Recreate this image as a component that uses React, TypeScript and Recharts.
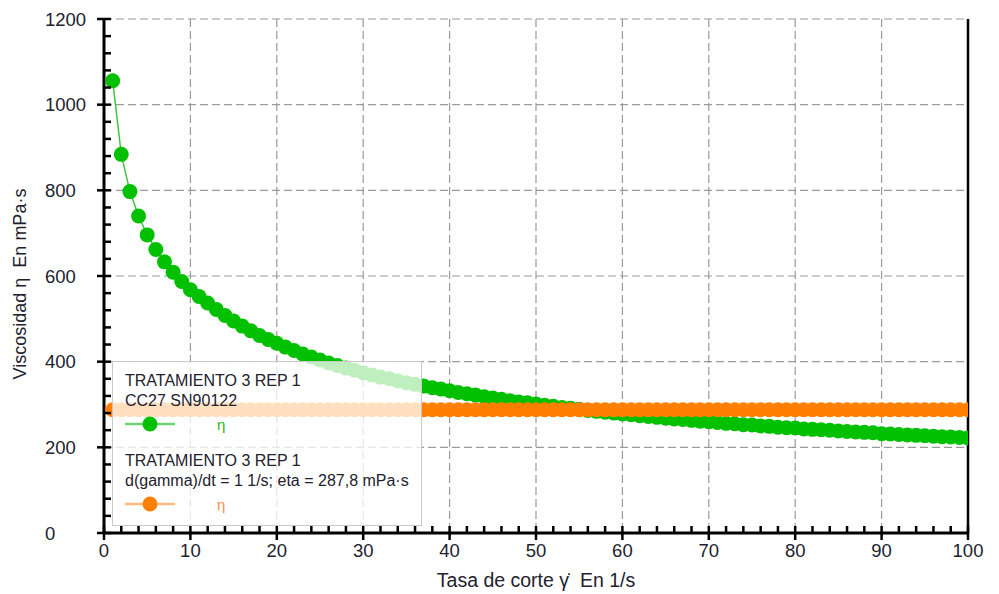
import React from 'react';
import { LineChart, Line, XAxis, YAxis, CartesianGrid, ReferenceLine } from 'recharts';

// shear rate (1/s)
const shearRate = [
  1, 2, 3, 4, 5, 6, 7, 8, 9, 10,
  11, 12, 13, 14, 15, 16, 17, 18, 19, 20,
  21, 22, 23, 24, 25, 26, 27, 28, 29, 30,
  31, 32, 33, 34, 35, 36, 37, 38, 39, 40,
  41, 42, 43, 44, 45, 46, 47, 48, 49, 50,
  51, 52, 53, 54, 55, 56, 57, 58, 59, 60,
  61, 62, 63, 64, 65, 66, 67, 68, 69, 70,
  71, 72, 73, 74, 75, 76, 77, 78, 79, 80,
  81, 82, 83, 84, 85, 86, 87, 88, 89, 90,
  91, 92, 93, 94, 95, 96, 97, 98, 99, 100,
];

// viscosity curve, CC27 SN90122 (mPa·s)
const etaCurve = [
  1056, 884, 797, 740, 696, 662, 633, 609, 587, 568,
  552, 537, 522, 508, 495, 483, 472, 461, 452, 443,
  434, 426, 418, 411, 404, 397, 391, 385, 380, 374,
  369, 364, 360, 355, 351, 347, 343, 339, 336, 332,
  328, 325, 322, 318, 315, 312, 309, 306, 304, 301,
  298, 296, 293, 291, 289, 286, 284, 282, 280, 278,
  276, 274, 272, 270, 268, 266, 265, 263, 261, 260,
  258, 256, 255, 253, 252, 250, 249, 247, 246, 245,
  243, 242, 241, 240, 238, 237, 236, 235, 234, 232,
  231, 230, 229, 228, 227, 226, 225, 224, 223, 222,
];

// single point result, d(gamma)/dt = 1 1/s (mPa·s)
const etaPoint = [
  287.8, 287.8, 287.8, 287.8, 287.8, 287.8, 287.8, 287.8, 287.8, 287.8,
  287.8, 287.8, 287.8, 287.8, 287.8, 287.8, 287.8, 287.8, 287.8, 287.8,
  287.8, 287.8, 287.8, 287.8, 287.8, 287.8, 287.8, 287.8, 287.8, 287.8,
  287.8, 287.8, 287.8, 287.8, 287.8, 287.8, 287.8, 287.8, 287.8, 287.8,
  287.8, 287.8, 287.8, 287.8, 287.8, 287.8, 287.8, 287.8, 287.8, 287.8,
  287.8, 287.8, 287.8, 287.8, 287.8, 287.8, 287.8, 287.8, 287.8, 287.8,
  287.8, 287.8, 287.8, 287.8, 287.8, 287.8, 287.8, 287.8, 287.8, 287.8,
  287.8, 287.8, 287.8, 287.8, 287.8, 287.8, 287.8, 287.8, 287.8, 287.8,
  287.8, 287.8, 287.8, 287.8, 287.8, 287.8, 287.8, 287.8, 287.8, 287.8,
  287.8, 287.8, 287.8, 287.8, 287.8, 287.8, 287.8, 287.8, 287.8, 287.8,
];

const xMajor = [0, 10, 20, 30, 40, 50, 60, 70, 80, 90, 100];
const xTicks = [
  0, 2, 4, 6, 8, 10, 12, 14, 16, 18, 20, 22, 24, 26, 28, 30, 32, 34, 36, 38, 40,
  42, 44, 46, 48, 50, 52, 54, 56, 58, 60, 62, 64, 66, 68, 70, 72, 74, 76, 78, 80,
  82, 84, 86, 88, 90, 92, 94, 96, 98, 100,
];
const yMajor = [0, 200, 400, 600, 800, 1000, 1200];
const yTicks = [
  0, 40, 80, 120, 160, 200, 240, 280, 320, 360, 400, 440, 480, 520, 560, 600,
  640, 680, 720, 760, 800, 840, 880, 920, 960, 1000, 1040, 1080, 1120, 1160, 1200,
];

const legendItems = [
  { title: 'TRATAMIENTO 3 REP 1', sub: 'CC27 SN90122', line: '#6fd36f', dot: '#00c000', eta: '#22b822' },
  { title: 'TRATAMIENTO 3 REP 1', sub: 'd(gamma)/dt = 1 1/s; eta = 287,8 mPa·s', line: '#ffbb80', dot: '#ff8000', eta: '#ff8850' },
];

const data = shearRate.map((x, i) => ({ x, curve: etaCurve[i], point: etaPoint[i] }));

const FONT = '"Liberation Sans", Arial, sans-serif';
const TEXT = '#22222e';

function XTick(props: any) {
  const { x, y, payload } = props;
  const major = xMajor.includes(payload.value);
  return (
    <g>
      <line x1={x} x2={x} y1={y - 7} y2={major ? y + 7 : y} stroke="#000" strokeWidth={2.5} />
      {major && (
        <text x={x} y={y + 24} textAnchor="middle" fontSize={18.5} fontFamily={FONT} fill={TEXT}>
          {payload.value}
        </text>
      )}
    </g>
  );
}

function YTick(props: any) {
  const { x, y, payload } = props;
  const major = yMajor.includes(payload.value);
  return (
    <g>
      <line x1={major ? x - 7 : x} x2={x + 7} y1={y} y2={y} stroke="#000" strokeWidth={2.5} />
      {major && (
        <text x={x - 59} y={y + 6.5} textAnchor="start" fontSize={18.5} fontFamily={FONT} fill={TEXT}>
          {payload.value}
        </text>
      )}
    </g>
  );
}

function YTitle(props: any) {
  const vb = props.viewBox || { x: 0, y: 19, height: 514 };
  const cx = vb.x + 20;
  const cy = vb.y + vb.height / 2 + 8;
  return (
    <text x={cx} y={cy} transform={`rotate(-90 ${cx} ${cy})`} textAnchor="middle" dominantBaseline="central"
      fontSize={18} fontFamily={FONT} fill={TEXT}>
      {'Viscosidad η\u00a0\u00a0En mPa·s'}
    </text>
  );
}

function XTitle(props: any) {
  const vb = props.viewBox || { x: 104, y: 533, width: 864 };
  return (
    <text x={vb.x + vb.width / 2} y={vb.y + 54} textAnchor="middle" fontSize={19.5} fontFamily={FONT} fill={TEXT}>
      {'Tasa de corte \u03b3\u0307\u00a0\u00a0En 1/s'}
    </text>
  );
}

function LegendBox() {
  return (
    <div style={{
      position: 'absolute', left: 112, top: 361, width: 310, height: 165,
      background: 'rgba(255,255,255,0.75)', border: '1px solid #c8c8c8', boxSizing: 'border-box',
    }}>
      <svg width={310} height={165} style={{ display: 'block' }}>
        {legendItems.map((it, i) => {
          const oy = i * 80;
          return (
            <g key={i} fontFamily={FONT}>
              <text x={12} y={oy + 24} fontSize={16} fill={TEXT}>{it.title}</text>
              <text x={12} y={oy + 44} fontSize={16} fill={TEXT}>{it.sub}</text>
              <line x1={12} x2={62} y1={oy + 62} y2={oy + 62} stroke={it.line} strokeWidth={2.5} />
              <circle cx={37} cy={oy + 62} r={7.5} fill={it.dot} />
              <text x={104} y={oy + 68} fontSize={15} fill={it.eta}>η</text>
            </g>
          );
        })}
      </svg>
    </div>
  );
}

export default function App() {
  return (
    <div style={{ position: 'absolute', left: 0, top: 0, width: 999, height: 594, background: '#fff' }}>
      <LineChart width={999} height={594} data={data} margin={{ top: 19, right: 31, left: 0, bottom: 0 }}>
        <CartesianGrid stroke="#9a9a9a" strokeDasharray="8 4" strokeWidth={1.2}
          horizontalValues={yMajor} verticalValues={xMajor} />
        <XAxis dataKey="x" type="number" domain={[0, 100]} ticks={xTicks} interval={0} allowDataOverflow
          height={61} tickSize={0} tickMargin={0} tickLine={false} tick={<XTick />}
          axisLine={{ stroke: '#000', strokeWidth: 3 }} label={<XTitle />} />
        <YAxis type="number" domain={[0, 1200]} ticks={yTicks} interval={0} allowDataOverflow
          width={104} tickSize={0} tickMargin={0} tickLine={false} tick={<YTick />}
          axisLine={{ stroke: '#000', strokeWidth: 3 }} label={<YTitle />} />
        <Line dataKey="curve" stroke="#3fc43f" strokeWidth={1.5} isAnimationActive={false}
          dot={{ r: 7.5, fill: '#00c000', stroke: 'none' }} activeDot={false} />
        <Line dataKey="point" stroke="#ff9a40" strokeWidth={1.5} isAnimationActive={false}
          dot={{ r: 7.5, fill: '#ff8000', stroke: 'none' }} activeDot={false} />
        <ReferenceLine x={100} stroke="#000" strokeWidth={2.5} />
      </LineChart>
      <LegendBox />
    </div>
  );
}
